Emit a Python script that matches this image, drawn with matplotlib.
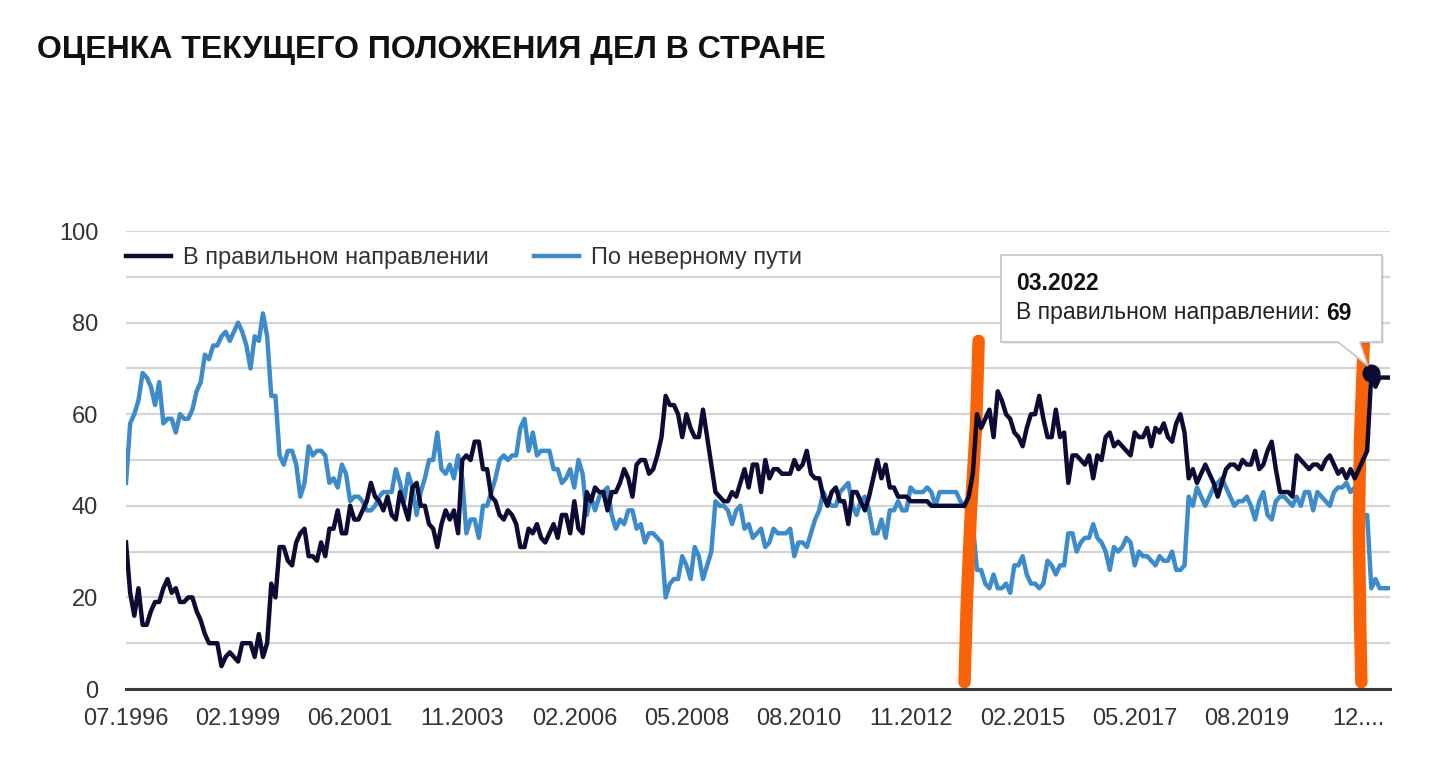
import numpy as np
import matplotlib.pyplot as plt
from matplotlib.patches import Polygon
from matplotlib.transforms import IdentityTransform

# --- тексты ---
title = "ОЦЕНКА ТЕКУЩЕГО ПОЛОЖЕНИЯ ДЕЛ В СТРАНЕ"
series_names = ["В правильном направлении", "По неверному пути"]
tick_labels = ["07.1996", "02.1999", "06.2001", "11.2003", "02.2006", "05.2008",
               "08.2010", "11.2012", "02.2015", "05.2017", "08.2019", "12...."]
tick_step = 27

# --- данные (%), по порядку опросов ---
right_way = [
    32, 21, 16, 22, 14, 14, 17, 19, 19, 22, 24, 21, 22, 19, 19, 20, 20, 17, 15, 12,
    10, 10, 10, 5, 7, 8, 7, 6, 10, 10, 10, 7, 12, 7, 10, 23, 20, 31, 31, 28,
    27, 32, 34, 35, 29, 29, 28, 32, 29, 35, 35,
    39, 34, 34, 40, 37, 37, 39, 41, 45, 42, 41, 39, 42, 38, 37, 43, 40, 37, 44, 45,
    40, 40, 36, 35, 31, 36, 39, 37, 39, 34, 50, 51, 50, 54, 54, 48, 48, 42, 41, 38,
    37, 39, 38, 36, 31, 31, 35, 34, 36, 33, 32,
    34, 36, 33, 38, 38, 34, 41, 35, 34, 43, 41, 44, 43, 43, 39, 43, 43, 45, 48, 46,
    42, 49, 50, 50, 47, 48, 51, 55, 64, 62, 62, 60, 55, 60, 57, 55, 55, 61, 55, 49,
    43, 42, 41, 41, 43, 42, 45, 48, 44, 49,
    49, 43, 50, 46, 48, 48, 47, 47, 47, 50, 48, 49, 52, 47, 46, 46, 42, 40, 43, 44,
    41, 41, 36, 43, 43, 41, 39, 42, 46, 50, 46, 49, 44, 44, 42, 42, 42, 41, 41, 41,
    41, 41, 40, 40, 40, 40, 40, 40, 40, 40,
    40, 42, 47, 60, 57, 59, 61, 55, 65, 63, 60, 59, 56, 55, 53, 57, 60, 60, 64, 59,
    55, 55, 61, 55, 56, 45, 51, 51, 50, 49, 51, 46, 51, 50, 55, 56, 53, 54, 53, 52,
    51, 56, 55, 55, 57, 53, 57, 56, 58, 55, 54,
    58, 60, 56, 46, 48, 45, 47, 49, 47, 45, 42, 45, 48, 49, 49, 48, 50, 49, 49, 52,
    48, 49, 52, 54, 48, 43, 43, 43, 42, 51, 50, 49, 48, 49, 49, 48, 50, 51, 49, 47,
    48, 46, 48, 46, 48, 50, 52, 69, 66, 68, 68, 68,
]
wrong_way = [
    45, 58, 60, 63, 69, 68, 66, 62, 67, 58, 59, 59, 56, 60, 59, 59, 61, 65, 67, 73,
    72, 75, 75, 77, 78, 76, 78, 80, 78, 75, 70, 77, 76, 82, 77, 64, 64, 51, 49, 52,
    52, 49, 42, 45, 53, 51, 52, 52, 51, 45, 46,
    44, 49, 47, 41, 42, 42, 41, 39, 39, 40, 42, 43, 43, 43, 48, 45, 41, 47, 44, 38,
    43, 46, 50, 50, 56, 48, 47, 49, 46, 51, 46, 34, 37, 37, 33, 40, 40, 43, 46, 50,
    51, 50, 51, 51, 57, 59, 52, 56, 51, 52, 52,
    52, 48, 48, 45, 46, 48, 44, 50, 47, 38, 42, 39, 42, 43, 44, 38, 35, 37, 36, 39,
    39, 35, 36, 32, 34, 34, 33, 32, 20, 23, 24, 24, 29, 27, 24, 31, 29, 24, 27, 30,
    41, 40, 40, 39, 36, 39, 40, 35, 36, 33,
    34, 35, 31, 32, 35, 34, 34, 34, 35, 29, 32, 32, 31, 34, 37, 39, 43, 41, 40, 40,
    43, 44, 45, 40, 38, 41, 42, 39, 34, 34, 37, 33, 39, 39, 41, 39, 39, 44, 43, 43,
    43, 44, 43, 40, 43, 43, 43, 43, 43, 41,
    40, 39, 36, 26, 26, 23, 22, 25, 22, 22, 23, 21, 27, 27, 29, 25, 23, 23, 22, 23,
    28, 27, 25, 27, 27, 34, 34, 30, 32, 33, 33, 36, 33, 32, 30, 26, 31, 30, 31, 33,
    32, 27, 30, 29, 29, 28, 27, 29, 28, 28, 30,
    26, 26, 27, 42, 40, 44, 42, 40, 42, 44, 45, 46, 44, 42, 40, 41, 41, 42, 40, 37,
    41, 43, 38, 37, 41, 42, 42, 41, 40, 42, 40, 43, 43, 39, 43, 42, 41, 40, 43, 44,
    44, 45, 43, 44, 44, 38, 38, 22, 24, 22, 22, 22,
]

# подсказка (03.2022)
tip_date = "03.2022"
tip_idx = 300

# отметки маркером (рисованные от руки)
marks = [
    ([205.4, 204.8, 203.6, 202.6, 202.0], [76, 58, 40, 20, 1.5]),
    ([298.2, 297.3, 297.0, 297.3, 297.6], [76, 55, 35, 15, 1.5]),
]

NAVY = "#0b0b33"
BLUE = "#3d8bcb"
ORANGE = "#fa6208"
TXT = "#333333"

W, H = 1431, 771
fig = plt.figure(figsize=(W / 100, H / 100), dpi=100)
ax = fig.add_axes([126 / W, 82 / H, (1390 - 126) / W, 458 / H])

x = np.arange(len(right_way))
ax.plot(x, wrong_way, color=BLUE, lw=3.2, zorder=3, label=series_names[1])
for mx, my in marks:
    ax.plot(mx, my, color=ORANGE, lw=9, solid_capstyle="round", zorder=4)
ax.plot(x, right_way, color=NAVY, lw=3.2, zorder=5, label=series_names[0])
ax.plot([tip_idx], [right_way[tip_idx]], "o", color=NAVY, ms=12, zorder=6)

ax.set_xlim(0, len(right_way) - 0.5)
ax.set_ylim(0, 100)
ax.set_xticks(np.arange(len(tick_labels)) * tick_step)
ax.set_xticklabels(tick_labels)
ax.set_yticks(range(0, 101, 20))
ax.set_yticks(range(10, 100, 20), minor=True)
ax.tick_params(axis="both", which="both", length=0, labelsize=17, labelcolor=TXT)
ax.tick_params(axis="y", pad=20)
ax.tick_params(axis="x", pad=14)
for t in ax.get_xticklabels() + ax.get_yticklabels():
    t.set_family("Liberation Sans")
ax.grid(True, which="both", axis="y", color="#d4d4d4", lw=1.6, zorder=0)
ax.set_axisbelow(True)
for s in ["top", "right", "left"]:
    ax.spines[s].set_visible(False)
ax.spines["bottom"].set_color("#3a3a3a")
ax.spines["bottom"].set_linewidth(2.2)
ax.spines["bottom"].set_zorder(7)

h, l = ax.get_legend_handles_labels()
leg = ax.legend(h[::-1], l[::-1], loc="center left", bbox_to_anchor=(0.0, 0.941),
                ncol=2, frameon=False, borderaxespad=0, borderpad=0,
                handlelength=1.9, handletextpad=0.5, columnspacing=1.95,
                prop={"family": "Liberation Sans", "size": 17})
for t in leg.get_texts():
    t.set_color(TXT)

fig.text(37 / W, 1 - 50 / H, title, fontsize=23, fontweight="bold",
         family="Liberation Sans", va="center", color="#111111")

# --- подсказка ---
bx0, bx1, by0, by1 = 1001, 1382, 255, 342
pts = [(bx0, by0), (bx1, by0), (bx1, by1), (1360, by1), (1368, 366), (1338, by1), (bx0, by1)]
shadow = Polygon([(px + 2, H - py - 2) for px, py in pts], closed=True,
                 transform=IdentityTransform(), facecolor="#000000", alpha=0.08,
                 edgecolor="none", zorder=8)
box = Polygon([(px, H - py) for px, py in pts], closed=True, transform=IdentityTransform(),
              facecolor="white", edgecolor="#c4c4c4", lw=1.2, zorder=9)
fig.patches.extend([shadow, box])
fig.text(1016 / W, 1 - 283 / H, tip_date, fontsize=16.5, fontweight="bold",
         family="Liberation Sans", va="center", color="#111111", zorder=10)
t1 = fig.text(1016 / W, 1 - 313 / H, series_names[0] + ": ", fontsize=16.5,
              family="Liberation Sans", va="center", color="#222222", zorder=10)
fig.canvas.draw()
bb = t1.get_window_extent()
fig.text(bb.x1 / W, 1 - 313 / H, str(right_way[tip_idx]), fontsize=16.5, fontweight="bold",
         family="Liberation Sans", va="center", color="#111111", zorder=10)

fig.savefig("out.png", dpi=100, facecolor="white")
